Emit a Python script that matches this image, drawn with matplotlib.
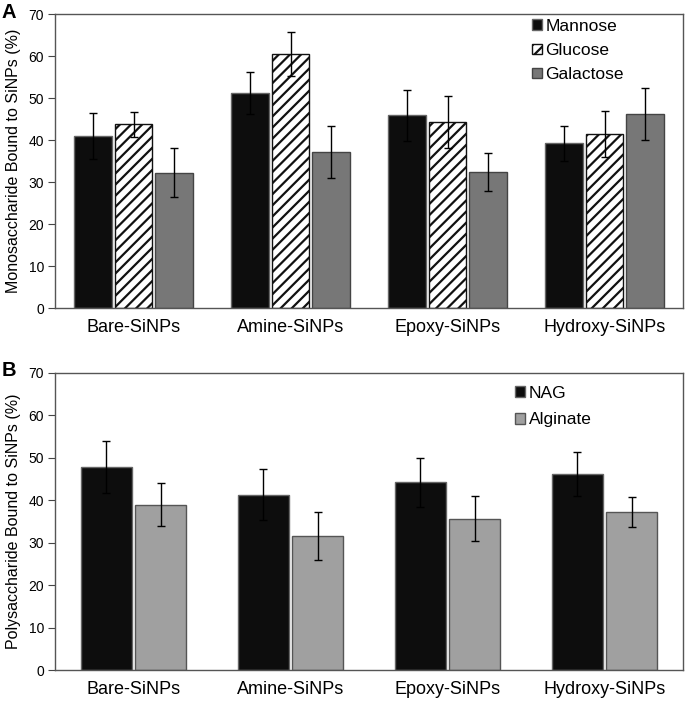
import matplotlib
matplotlib.use("Agg")
import matplotlib.pyplot as plt
import numpy as np

plt.rcParams['font.family'] = ['Liberation Sans', 'DejaVu Sans']
plt.rcParams['hatch.linewidth'] = 1.6

categories = ["Bare-SiNPs", "Amine-SiNPs", "Epoxy-SiNPs", "Hydroxy-SiNPs"]

mono_series = ["Mannose", "Glucose", "Galactose"]
mannose = [41.0, 51.1, 45.9, 39.2]
mannose_err = [5.5, 5.0, 6.1, 4.2]
glucose = [43.7, 60.5, 44.3, 41.4]
glucose_err = [3.0, 5.3, 6.2, 5.4]
galactose = [32.2, 37.1, 32.4, 46.3]
galactose_err = [5.8, 6.2, 4.5, 6.2]

poly_series = ["NAG", "Alginate"]
nag = [47.8, 41.3, 44.2, 46.2]
nag_err = [6.2, 6.0, 5.8, 5.2]
alginate = [39.0, 31.6, 35.7, 37.3]
alginate_err = [5.0, 5.6, 5.2, 3.5]

yticks = [0, 10, 20, 30, 40, 50, 60, 70]

fig = plt.figure(figsize=(6.85, 7.02), dpi=100)
axA = fig.add_axes([55/685, 1-308/702, (683-55)/685, (308-14)/702])
axB = fig.add_axes([55/685, 1-670/702, (683-55)/685, (670-373)/702])

x = np.arange(len(categories))
ekw = dict(ecolor='black', elinewidth=1.0, capsize=3, capthick=1.0)

wA = 0.242
pA = 0.258
axA.bar(x - pA, mannose, wA, yerr=mannose_err, color='#0d0d0d', edgecolor='#666666',
        linewidth=1.0, label=mono_series[0], error_kw=ekw)
axA.bar(x, glucose, wA, yerr=glucose_err, color='white', edgecolor='#111111',
        hatch='///', linewidth=1.0, label=mono_series[1], error_kw=ekw)
axA.bar(x + pA, galactose, wA, yerr=galactose_err, color='#777777', edgecolor='#444444',
        linewidth=1.0, label=mono_series[2], error_kw=ekw)

wB = 0.325
pB = 0.175
axB.bar(x - pB, nag, wB, yerr=nag_err, color='#0d0d0d', edgecolor='#666666',
        linewidth=1.0, label=poly_series[0], error_kw=ekw)
axB.bar(x + pB, alginate, wB, yerr=alginate_err, color='#a0a0a0', edgecolor='#555555',
        linewidth=1.0, label=poly_series[1], error_kw=ekw)

for ax, ylab in [(axA, "Monosaccharide Bound to SiNPs (%)"),
                 (axB, "Polysaccharide Bound to SiNPs (%)")]:
    ax.set_xlim(-0.5, 3.5)
    ax.set_ylim(0, 70)
    ax.set_yticks(yticks)
    ax.set_yticklabels([str(t) for t in yticks], fontsize=10)
    ax.set_xticks(x)
    ax.set_xticklabels(categories, fontsize=13)
    ax.tick_params(axis='x', length=0, pad=8)
    ax.tick_params(axis='y', direction='out', length=5, width=0.8, color='#444444', pad=3)
    for s in ax.spines.values():
        s.set_color('#555555')
        s.set_linewidth(1.0)
    ax.set_ylabel(ylab, fontsize=11.5, labelpad=5)

legA = axA.legend(loc='upper left', bbox_to_anchor=((532-55)/628, 1-5/294), frameon=False,
                  fontsize=12.5, handlelength=0.58, handleheight=0.58, handletextpad=0.2,
                  labelspacing=0.52, borderaxespad=0, borderpad=0)
legB = axB.legend(loc='upper left', bbox_to_anchor=((515-55)/628, 1-13/297), frameon=False,
                  fontsize=12.5, handlelength=0.58, handleheight=0.58, handletextpad=0.2,
                  labelspacing=0.65, borderaxespad=0, borderpad=0)

fig.text(2/685, 1-13/702, "A", fontsize=14.5, fontweight='bold', va='center', ha='left')
fig.text(2/685, 1-371/702, "B", fontsize=14.5, fontweight='bold', va='center', ha='left')

fig.savefig("out.png", dpi=100)
